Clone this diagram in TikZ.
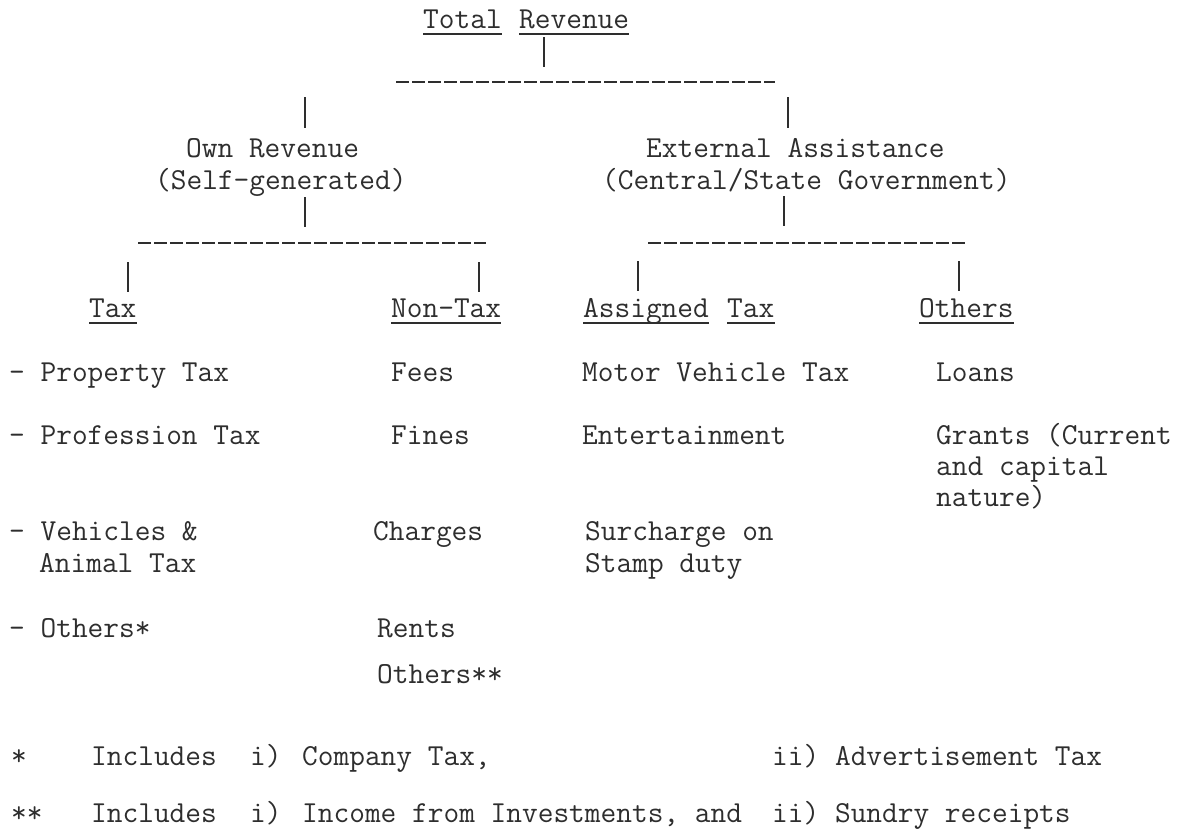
\documentclass[tikz,border=0pt]{standalone}
\usepackage{fontspec}
\definecolor{ink}{HTML}{2E2E2E}
\begin{document}
\begin{tikzpicture}[x=1pt,y=-1pt,
  txt/.style={inner sep=0pt, anchor=base west, font=\ttfamily\fontsize{30.5}{36}\selectfont, text=ink},
  vline/.style={draw=ink, line width=1.3pt},
  bar/.style={draw=ink, line width=2pt, dash pattern=on 13pt off 3pt},
  uline/.style={draw=ink, line width=1.4pt}]
\fill[white] (0,0) rectangle (1190,833);
\useasboundingbox (0,0) rectangle (1190,833);

% headings
\node[txt] (total) at (423,28) {Total};
\node[txt] (revenue) at (519,28) {Revenue};
\node[txt] (own1) at (186,157) {Own Revenue};
\node[txt] (own2) at (155,189) {(Self-generated)};
\node[txt] (ext1) at (646,157) {External Assistance};
\node[txt] (ext2) at (602,189) {(Central/State Government)};
\node[txt] (tax) at (89,317) {Tax};
\node[txt] (nontax) at (391,317) {Non-Tax};
\node[txt] (assigned) at (583,317) {Assigned};
\node[txt] (atax) at (727,317) {Tax};
\node[txt] (others) at (919,317) {Others};

% underlines
\foreach \n in {total,revenue,tax,nontax,assigned,atax,others}
  \draw[uline] ([yshift=-6pt]\n.base west) -- ([yshift=-6pt]\n.base east);

% connector points
\coordinate (v0t) at (544,37);  \coordinate (v0b) at (544,67);
\coordinate (b0l) at (396,82);  \coordinate (b0r) at (775,82);
\coordinate (v1lt) at (305,97); \coordinate (v1lb) at (305,128);
\coordinate (v1rt) at (788,97); \coordinate (v1rb) at (788,128);
\coordinate (v2lt) at (305,197); \coordinate (v2lb) at (305,227);
\coordinate (b1ll) at (138,243); \coordinate (b1lr) at (486,243);
\coordinate (v3at) at (128,262); \coordinate (v3ab) at (128,292);
\coordinate (v3bt) at (479,262); \coordinate (v3bb) at (479,292);
\coordinate (v2rt) at (784,196); \coordinate (v2rb) at (784,226);
\coordinate (b1rl) at (648,243); \coordinate (b1rr) at (966,243);
\coordinate (v3ct) at (638,261); \coordinate (v3cb) at (638,291);
\coordinate (v3dt) at (959,261); \coordinate (v3db) at (959,291);

\draw[vline] (v0t) -- (v0b);
\draw[bar] (b0l) -- (b0r);
\draw[vline] (v1lt) -- (v1lb);
\draw[vline] (v1rt) -- (v1rb);
\draw[vline] (v2lt) -- (v2lb);
\draw[bar] (b1ll) -- (b1lr);
\draw[vline] (v3at) -- (v3ab);
\draw[vline] (v3bt) -- (v3bb);
\draw[vline] (v2rt) -- (v2rb);
\draw[bar] (b1rl) -- (b1rr);
\draw[vline] (v3ct) -- (v3cb);
\draw[vline] (v3dt) -- (v3db);

% body: tax column
\node[txt] (t1) at (9,381) {- Property Tax};
\node[txt] (t2) at (9,444) {- Profession Tax};
\node[txt] (t3a) at (9,540) {- Vehicles \&};
\node[txt] (t3b) at (39,572) {Animal Tax};
\node[txt] (t4) at (9,637) {- Others*};
% non-tax column
\node[txt] (n1) at (391,381) {Fees};
\node[txt] (n2) at (391,444) {Fines};
\node[txt] (n3) at (373,540) {Charges};
\node[txt] (n4) at (377,637) {Rents};
\node[txt] (n5) at (377,683) {Others**};
% assigned tax column
\node[txt] (a1) at (582,381) {Motor Vehicle Tax};
\node[txt] (a2) at (582,444) {Entertainment};
\node[txt] (a3a) at (585,540) {Surcharge on};
\node[txt] (a3b) at (585,572) {Stamp duty};
% others column
\node[txt] (o1) at (936,381) {Loans};
\node[txt] (o2a) at (936,444) {Grants (Current};
\node[txt] (o2b) at (936,475) {and capital};
\node[txt] (o2c) at (936,506) {nature)};

% footnotes
\node[txt] (f1s) at (11,765) {*};
\node[txt] (f1a) at (91,765) {Includes};
\node[txt] (f1b) at (250,765) {i)};
\node[txt] (f1c) at (302,765) {Company Tax,};
\node[txt] (f1d) at (772,765) {ii) Advertisement Tax};
\node[txt] (f2s) at (11,822) {**};
\node[txt] (f2a) at (91,822) {Includes};
\node[txt] (f2b) at (250,822) {i)};
\node[txt] (f2c) at (302,822) {Income from Investments, and};
\node[txt] (f2d) at (772,822) {ii) Sundry receipts};
\end{tikzpicture}
\end{document}
